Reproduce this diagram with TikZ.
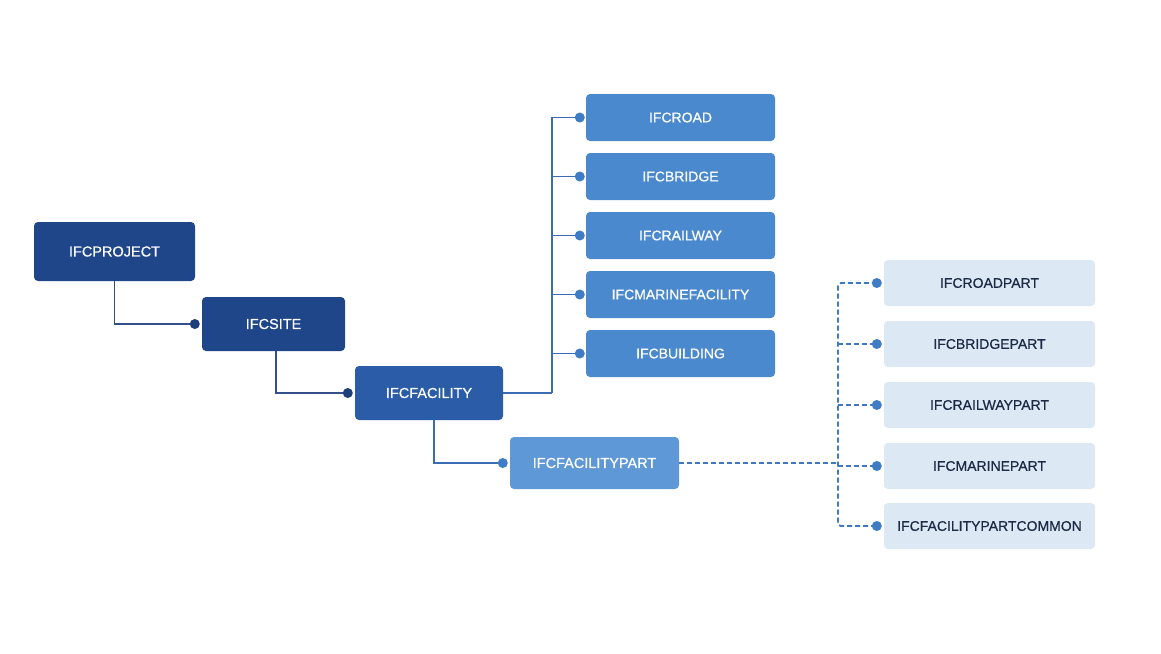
\documentclass[tikz,border=0pt]{standalone}
\usepackage{fontspec}
\setmainfont{Liberation Sans}
\newfontfamily\medfont{Liberation Sans}[FakeBold=0.6]
\usetikzlibrary{calc}
\definecolor{cdark}{HTML}{1F4688}
\definecolor{cfac}{HTML}{2A5CA8}
\definecolor{cmid}{HTML}{4A89CD}
\definecolor{cfpart}{HTML}{5F98D6}
\definecolor{cpart}{HTML}{DDE8F5}
\definecolor{cparttext}{HTML}{1C2B45}
\definecolor{ldark}{HTML}{34508A}
\definecolor{ddark}{HTML}{1F3F7A}
\definecolor{lmid}{HTML}{3B6CB3}
\definecolor{dmid}{HTML}{3E7DC6}
\definecolor{ldash}{HTML}{3F78BD}
\begin{document}
\begin{tikzpicture}[x=1pt,y=-1pt,
  box/.style={rectangle,rounded corners=4pt,inner sep=0pt,font=\medfont\fontsize{14.5}{16}\selectfont,text=white},
  midbox/.style={box,fill=cmid,minimum width=189pt,minimum height=47pt,font=\medfont\fontsize{14}{16}\selectfont},
  partbox/.style={box,fill=cpart,text=cparttext,minimum width=211pt,minimum height=46pt,font=\medfont\fontsize{14}{16}\selectfont},
  dlink/.style={draw=ldark,line width=1.8pt},
  mlink/.style={draw=lmid,line width=1.8pt},
  dashlink/.style={draw=ldash,line width=1.8pt,dash pattern=on 5pt off 3pt},
  ddot/.style={circle,fill=ddark,inner sep=0pt,minimum size=10pt},
  mdot/.style={circle,fill=dmid,inner sep=0pt,minimum size=10pt},
]
\useasboundingbox[fill=white] (0,0) rectangle (1161,653);

% nodes
\node[box,fill=cdark,minimum width=161pt,minimum height=59pt] (project) at (114.5,251.5) {IFCPROJECT};
\node[box,fill=cdark,minimum width=143pt,minimum height=54pt] (site) at (273.5,324) {IFCSITE};
\node[box,fill=cfac,minimum width=148pt,minimum height=54pt] (facility) at (429,393) {IFCFACILITY};
\node[box,fill=cfpart,minimum width=169pt,minimum height=52pt] (fpart) at (594.5,463) {IFCFACILITYPART};

\node[midbox] (road) at (680.5,117.5) {IFCROAD};
\node[midbox] (bridge) at (680.5,176.5) {IFCBRIDGE};
\node[midbox] (railway) at (680.5,235.5) {IFCRAILWAY};
\node[midbox] (marine) at (680.5,294.5) {IFCMARINEFACILITY};
\node[midbox] (building) at (680.5,353.5) {IFCBUILDING};

\node[partbox] (roadpart) at (989.5,283) {IFCROADPART};
\node[partbox] (bridgepart) at (989.5,344) {IFCBRIDGEPART};
\node[partbox] (railwaypart) at (989.5,405) {IFCRAILWAYPART};
\node[partbox] (marinepart) at (989.5,466) {IFCMARINEPART};
\node[partbox] (commonpart) at (989.5,526) {IFCFACILITYPARTCOMMON};

% dark connectors
\draw[dlink] (project.south) |- ([xshift=-7pt]site.west) node[ddot]{};
\draw[dlink] ([xshift=2.5pt]site.south) |- ([xshift=-7pt]facility.west) node[ddot]{};

% facility branches
\coordinate (busx) at (552,0);
\draw[mlink] (facility.east) -- (facility.east -| busx);
\foreach \n in {road,bridge,railway,marine,building}{
  \draw[mlink] (facility.east -| busx) |- ([xshift=-6pt]\n.west) node[mdot]{};
}
\draw[mlink] ([xshift=5pt]facility.south) |- ([xshift=-7pt]fpart.west) node[mdot]{};

% dashed part links
\coordinate (busy) at (838,0);
\draw[dashlink] (fpart.east) -- (fpart.east -| busy);
\draw[dashlink,rounded corners=3pt] ([xshift=-7pt]roadpart.west) -| (busy |- marinepart.west) |- ([xshift=-7pt]commonpart.west);
\foreach \n in {bridgepart,railwaypart,marinepart}{
  \draw[dashlink] (busy |- \n.west) -- ([xshift=-7pt]\n.west);
}
\foreach \n in {roadpart,bridgepart,railwaypart,marinepart,commonpart}{
  \node[mdot] at ([xshift=-7pt]\n.west) {};
}
\end{tikzpicture}
\end{document}
